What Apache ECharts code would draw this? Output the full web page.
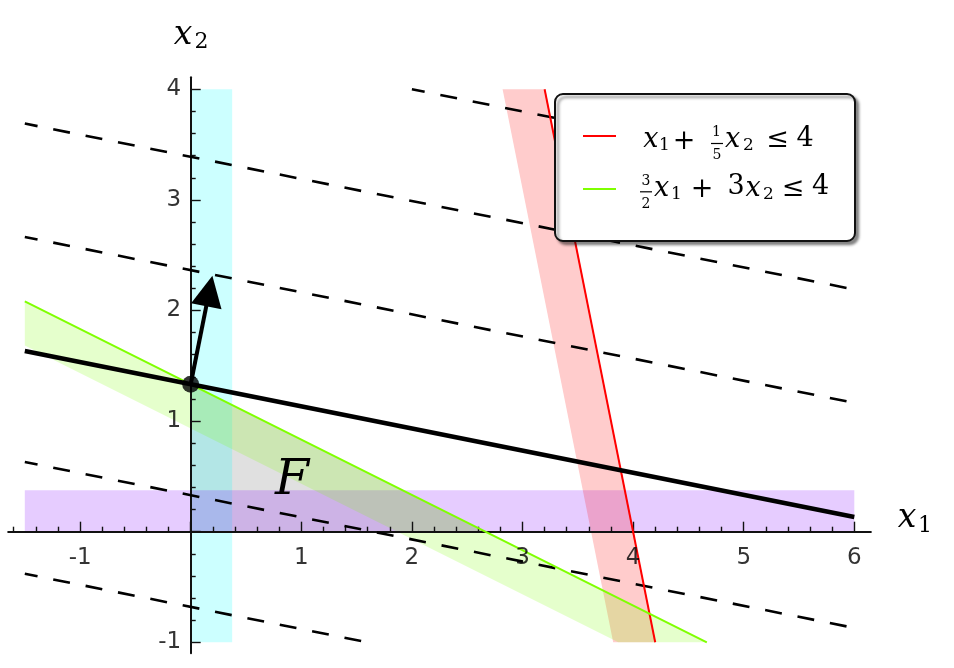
<!DOCTYPE html>
<html><head><meta charset="utf-8">
<script src="https://cdn.jsdelivr.net/npm/echarts@6/dist/echarts.min.js"></script>
<style>html,body{margin:0;padding:0;background:#fff}#chart{width:954px;height:668px}</style>
</head><body><div id="chart"></div>
<script>
// ---------------- data ----------------
const plotXRange = [-1.5, 6];
const plotYRange = [-1, 4];
const axisXExtent = [-1.65, 6.15];
const axisYExtent = [-1.1, 4.11];
const xTickLabels = [-1, 1, 2, 3, 4, 5, 6];
const yTickLabels = [-1, 1, 2, 3, 4];
const xMajorTicks = [-1, 0, 1, 2, 3, 4, 5, 6];
const yMajorTicks = [-1, 0, 1, 2, 3, 4];
const xMinorTicks = [-1.6,-1.4,-1.2,-0.8,-0.6,-0.4,-0.2,0.2,0.4,0.6,0.8,1.2,1.4,1.6,1.8,2.2,2.4,2.6,2.8,3.2,3.4,3.6,3.8,4.2,4.4,4.6,4.8,5.2,5.4,5.6,5.8];
const yMinorTicks = [-0.8,-0.6,-0.4,-0.2,0.2,0.4,0.6,0.8,1.2,1.4,1.6,1.8,2.2,2.4,2.6,2.8,3.2,3.4,3.6,3.8];
const redConstraint = [1, 0.2, 4];     // x1 + 1/5 x2 <= 4
const greenConstraint = [1.5, 3, 4];   // 3/2 x1 + 3 x2 <= 4
const boundBandWidths = [0.375, 0.375]; // x1 >= 0 band, x2 >= 0 band
const redBandWidth = 0.38;              // horizontal
const greenBandWidth = 0.40;            // vertical
const feasibleVertices = [[0, 0], [8 / 3, 0], [0, 4 / 3]];
const optimumPoint = [0, 4 / 3];
const objectiveSlope = -0.2;
const gradientTip = [0.196, 2.314];
const levelIntercepts = [4.4, 3.39, 2.365, 0.33, -0.68];

// ---------------- derived geometry ----------------
const [xMin, xMax] = plotXRange;
const [yMin, yMax] = plotYRange;
const redX = y => (redConstraint[2] - redConstraint[1] * y) / redConstraint[0];
const greenY = x => (greenConstraint[2] - greenConstraint[0] * x) / greenConstraint[1];
const greenXAt = (y, off) => (greenConstraint[2] - greenConstraint[1] * (y + off)) / greenConstraint[0];

const cyanBand = [[0, yMin], [boundBandWidths[0], yMin], [boundBandWidths[0], yMax], [0, yMax]];
const purpleBand = [[xMin, 0], [xMax, 0], [xMax, boundBandWidths[1]], [xMin, boundBandWidths[1]]];
const redBand = [[redX(yMin), yMin], [redX(yMax), yMax], [redX(yMax) - redBandWidth, yMax], [redX(yMin) - redBandWidth, yMin]];
const greenBand = [[xMin, greenY(xMin)], [greenXAt(yMin, 0), yMin], [greenXAt(yMin, greenBandWidth), yMin], [xMin, greenY(xMin) - greenBandWidth]];

const redLine = [[redX(yMin), yMin], [redX(yMax), yMax]];
const greenLine = [[xMin, greenY(xMin)], [greenXAt(yMin, 0), yMin]];
const objY = x => optimumPoint[1] + objectiveSlope * (x - optimumPoint[0]);
const objectiveLine = [[xMin, objY(xMin)], [xMax, objY(xMax)]];

function levelLine(c) {
  const f = x => c + objectiveSlope * x;
  const xa = Math.max(xMin, (yMax - c) / objectiveSlope);
  const xb = Math.min(xMax, (yMin - c) / objectiveSlope);
  return [[xa, f(xa)], [xb, f(xb)]];
}

// ---------------- chart ----------------
function polygonSeries(name, pts, fill, z) {
  return {
    type: 'custom', name, z, silent: true, animation: false,
    xAxisIndex: 0, yAxisIndex: 0,
    data: [[pts[0][0], pts[0][1]]],
    renderItem: (params, api) => ({
      type: 'polygon',
      shape: { points: pts.map(p => api.coord(p)) },
      style: { fill: fill }
    })
  };
}
function lineSeries(name, pts, color, width, type, z) {
  return {
    type: 'line', name, z, silent: true, animation: false,
    xAxisIndex: 0, yAxisIndex: 0,
    data: pts, showSymbol: false, symbol: 'none',
    lineStyle: { color, width, type: type || 'solid', dashOffset: 4, cap: 'butt' }
  };
}

const series = [
  polygonSeries('feasible', feasibleVertices, 'rgba(0,0,0,0.12)', 0),
  polygonSeries('x1>=0', cyanBand, 'rgba(0,255,255,0.2)', 0),
  polygonSeries('x2>=0', purpleBand, 'rgba(128,0,255,0.2)', 0),
  polygonSeries('red band', redBand, 'rgba(255,0,0,0.2)', 0),
  polygonSeries('green band', greenBand, 'rgba(127,255,0,0.2)', 0),
];
levelIntercepts.forEach((c, i) => series.push(lineSeries('level' + i, levelLine(c), '#000', 2.6, [17, 16], 3)));
series.push(lineSeries('red', redLine, '#ff0000', 2, 'solid', 4));
series.push(lineSeries('green', greenLine, '#7fff00', 2, 'solid', 4));
series.push(lineSeries('objective', objectiveLine, '#000', 4.5, 'solid', 5));
series.push({
  type: 'custom', name: 'gradient', z: 6, silent: true, animation: false,
  xAxisIndex: 0, yAxisIndex: 0,
  data: [[optimumPoint[0], optimumPoint[1]]],
  renderItem: (params, api) => {
    const s = api.coord(optimumPoint), t = api.coord(gradientTip);
    const dx = t[0] - s[0], dy = t[1] - s[1], L = Math.hypot(dx, dy);
    const ux = dx / L, uy = dy / L, px = -uy, py = ux;
    const hl = 31, hw = 15.5;
    const b = [t[0] - ux * hl, t[1] - uy * hl];
    return { type: 'group', children: [
      { type: 'line', shape: { x1: s[0], y1: s[1], x2: b[0] + ux * 2, y2: b[1] + uy * 2 }, style: { stroke: '#000', lineWidth: 4 } },
      { type: 'polygon', shape: { points: [t, [b[0] + px * hw, b[1] + py * hw], [b[0] - px * hw, b[1] - py * hw]] }, style: { fill: '#000' } }
    ]};
  }
});
series.push({
  type: 'scatter', name: 'optimum', z: 7, silent: true, animation: false,
  data: [optimumPoint], symbol: 'circle', symbolSize: 17, itemStyle: { color: '#000', borderWidth: 0 }
});
// tick labels, placed through the axes
const tickLabelFont = { fontSize: 23, fontFamily: 'DejaVu Sans', color: '#000' };
series.push({
  type: 'scatter', name: 'xTickLabels', z: 8, silent: true, animation: false,
  data: xTickLabels.map(v => [v, 0]), symbol: 'circle', symbolSize: 1, itemStyle: { color: 'rgba(0,0,0,0)' },
  label: Object.assign({ show: true, position: 'bottom', distance: 14, formatter: p => String(p.value[0]) }, tickLabelFont)
});
series.push({
  type: 'scatter', name: 'yTickLabels', z: 8, silent: true, animation: false,
  data: yTickLabels.map(v => [0, v]), symbol: 'circle', symbolSize: 1, itemStyle: { color: 'rgba(0,0,0,0)' },
  label: Object.assign({ show: true, position: 'left', distance: 9, formatter: p => String(p.value[1]) }, tickLabelFont)
});

const axisColor = '#111';
function xAx(major) {
  return {
    type: 'value', min: axisXExtent[0], max: axisXExtent[1], position: 'bottom', z: 1,
    axisLine: { show: major, onZero: true, lineStyle: { color: axisColor, width: 2 } },
    axisTick: { show: true, inside: true, length: major ? 10 : 5, customValues: major ? xMajorTicks : xMinorTicks, lineStyle: { color: axisColor, width: 1.4 } },
    axisLabel: { show: false },
    splitLine: { show: false }, minorTick: { show: false }
  };
}
function yAx(major) {
  return {
    type: 'value', min: axisYExtent[0], max: axisYExtent[1], position: 'left', z: 1,
    axisLine: { show: major, onZero: true, lineStyle: { color: axisColor, width: 2 } },
    axisTick: { show: true, inside: true, length: major ? 10 : 5, customValues: major ? yMajorTicks : yMinorTicks, lineStyle: { color: axisColor, width: 1.4 } },
    axisLabel: { show: false },
    splitLine: { show: false }, minorTick: { show: false }
  };
}

function txt(str, x, y, size, italic) {
  return { type: 'text', x, y, z: 100, silent: true,
    style: { legacy: false, text: str, fill: '#000', fontSize: size, fontFamily: 'DejaVu Serif',
      fontStyle: italic ? 'italic' : 'normal', fontWeight: 'normal', align: 'center', verticalAlign: 'middle' } };
}
function bar(x1, x2, y) {
  return { type: 'line', z: 100, silent: true, shape: { x1, y1: y, x2, y2: y }, style: { stroke: '#000', lineWidth: 1.2 } };
}
const graphics = [
  // axis names
  txt('x', 183, 35, 33, true), txt('2', 201.5, 42, 22, false),
  txt('x', 907, 518.5, 33, true), txt('1', 925, 526, 22, false),
  // region label
  txt('F', 292, 481, 49, true),
  // legend box
  { type: 'rect', z: 99, silent: true, shape: { x: 555, y: 94, width: 300, height: 147, r: 8 },
    style: { fill: '#fff', stroke: '#111', lineWidth: 2, shadowBlur: 3, shadowOffsetX: 3, shadowOffsetY: 3, shadowColor: 'rgba(0,0,0,0.45)' } },
  { type: 'line', z: 100, silent: true, shape: { x1: 583, y1: 136, x2: 616, y2: 136 }, style: { stroke: '#ff0000', lineWidth: 2 } },
  { type: 'line', z: 100, silent: true, shape: { x1: 583, y1: 189, x2: 616, y2: 189 }, style: { stroke: '#7fff00', lineWidth: 2 } },
  // row 1: x1 + 1/5 x2 <= 4
  txt('x', 650.8, 140, 27, true), txt('1', 664.5, 146, 17, false), txt('+', 684, 141.5, 27, false),
  txt('1', 716.5, 132.3, 14, false), bar(711, 723, 143.5), txt('5', 717, 155.8, 14, false),
  txt('x', 732.5, 140, 27, true), txt('2', 748.5, 146, 17, false),
  txt('\u2264', 777.5, 140, 27, false), txt('4', 805, 138.5, 27, false),
  // row 2: 3/2 x1 + 3 x2 <= 4
  txt('3', 646, 181, 14, false), bar(640, 652, 191.8), txt('2', 646, 204.5, 14, false),
  txt('x', 661.5, 189, 27, true), txt('1', 676.5, 194.7, 17, false), txt('+', 702, 190, 27, false),
  txt('3', 736, 187, 27, false), txt('x', 753, 189, 27, true), txt('2', 768.5, 194.7, 17, false),
  txt('\u2264', 793, 189, 27, false), txt('4', 820.5, 187, 27, false)
];

const S = 110.6;
const chart = echarts.init(document.getElementById('chart'), null, { renderer: 'canvas' });
chart.setOption({
  animation: false,
  backgroundColor: '#fff',
  grid: { left: 190.7 + axisXExtent[0] * S, top: 531.7 - axisYExtent[1] * S,
          width: (axisXExtent[1] - axisXExtent[0]) * S, height: (axisYExtent[1] - axisYExtent[0]) * S,
          containLabel: false },
  xAxis: [xAx(true), xAx(false)],
  yAxis: [yAx(true), yAx(false)],
  series,
  graphic: graphics
});
</script></body></html>
